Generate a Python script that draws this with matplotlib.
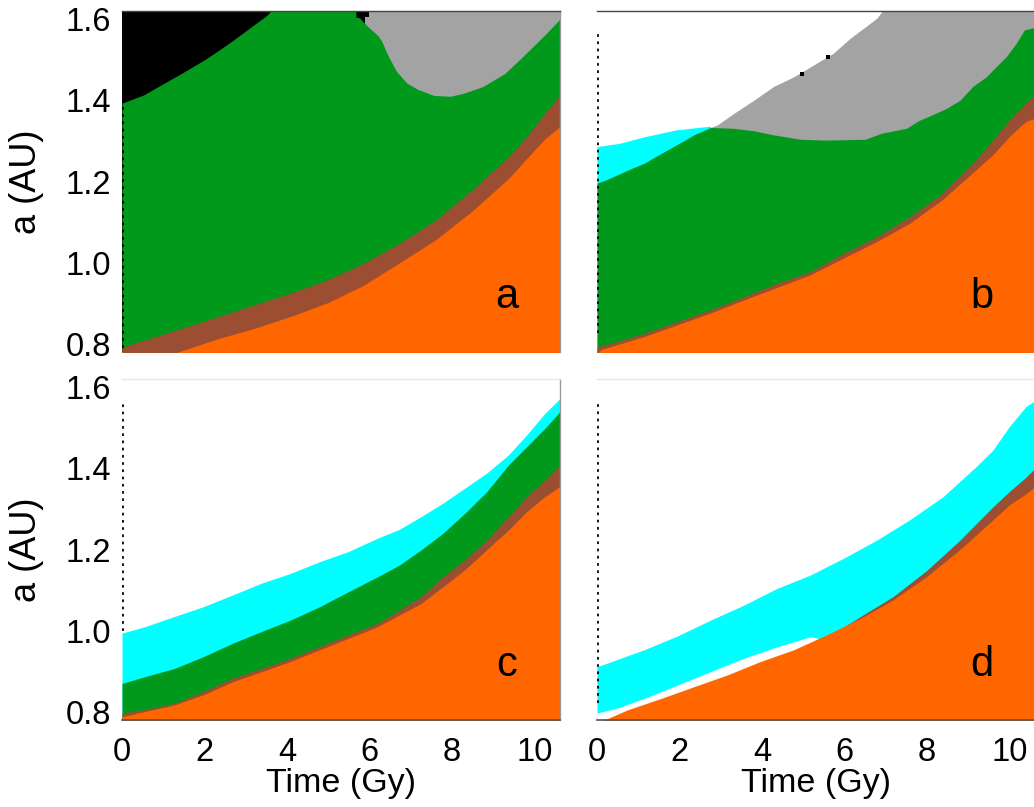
import matplotlib
matplotlib.use("Agg")
import matplotlib.pyplot as plt

plt.rcParams['font.family'] = ['Liberation Sans', 'DejaVu Sans']

# ---------------------------------------------------------------- colours
ORANGE = '#FF6600'
BROWN = '#9C4E32'
GREEN = '#00991C'
CYAN = '#00FFFF'
GRAY = '#A3A3A3'
BLACK = '#000000'

T_MAX = 10.62
A_MIN, A_MAX = 0.78, 1.62
FLOOR = 0.70  # fills run down below the visible range

x_ticks = [0, 2, 4, 6, 8, 10]
x_tick_labels = ['0', '2', '4', '6', '8', '10']
y_ticks = [0.8, 1.0, 1.2, 1.4, 1.6]
y_tick_labels = ['0.8', '1.0', '1.2', '1.4', '1.6']

# ---------------------------------------------------------------- panel a
a_black_end = 5.88
a_patch_t = [5.88, 5.98]
a_patch_a = 1.605
a_green_t = [0.0, 0.52, 1.02, 1.52, 2.02, 2.53, 3.03, 3.52, 3.69, 5.67, 5.67,
             5.76, 5.88, 6.0, 6.2, 6.3, 6.45, 6.65, 6.9, 7.17, 7.56, 7.96, 8.27,
             8.75, 9.28, 9.72, 10.25, 10.62]
a_green_a = [1.393, 1.413, 1.442, 1.471, 1.501, 1.536, 1.573, 1.61, 1.63, 1.63,
             1.605, 1.603, 1.59, 1.578, 1.56, 1.545, 1.51, 1.472, 1.443, 1.427,
             1.412, 1.41, 1.417, 1.434, 1.466, 1.508, 1.561, 1.60]
a_brown_t = [0.0, 0.56, 1.44, 2.32, 3.2, 4.08, 4.96, 5.85, 6.73, 7.61, 8.49,
             9.37, 9.81, 10.25, 10.62]
a_brown_a = [0.792, 0.81, 0.838, 0.867, 0.896, 0.925, 0.957, 0.998, 1.048,
             1.105, 1.179, 1.261, 1.31, 1.368, 1.413]
a_orange_t = [0.0, 1.36, 2.3, 3.2, 4.1, 5.0, 5.85, 6.7, 7.6, 8.5, 9.4, 9.8,
              10.25, 10.62]
a_orange_a = [0.74, 0.78, 0.812, 0.838, 0.868, 0.902, 0.944, 0.998, 1.056,
              1.128, 1.21, 1.255, 1.305, 1.335]

# ---------------------------------------------------------------- panel b
b_gray_t = [2.75, 2.91, 3.32, 3.8, 4.28, 4.77, 5.25, 5.73, 6.14, 6.51, 6.78,
            7.0, 10.62]
b_gray_a = [1.333, 1.339, 1.368, 1.4, 1.434, 1.458, 1.487, 1.516, 1.553, 1.581,
            1.602, 1.63, 1.63]
b_cyan_t = [0.0, 0.54, 1.14, 1.59, 1.91, 2.43, 2.75]
b_cyan_a = [1.286, 1.294, 1.31, 1.32, 1.327, 1.333, 1.336]
b_green_t = [0.0, 0.22, 0.74, 1.14, 1.55, 1.99, 2.35, 2.75, 3.32, 3.8, 4.28,
             4.93, 5.57, 6.5, 6.9, 7.5, 7.8, 8.12, 8.47, 8.8, 9.11, 9.44, 9.68,
             9.92, 10.16, 10.36, 10.62]
b_green_a = [1.196, 1.204, 1.228, 1.245, 1.269, 1.294, 1.315, 1.333, 1.331,
             1.325, 1.315, 1.304, 1.302, 1.304, 1.319, 1.331, 1.35, 1.364, 1.38,
             1.4, 1.434, 1.458, 1.483, 1.507, 1.54, 1.573, 1.58]
b_brown_t = [0.0, 0.46, 1.14, 1.95, 2.75, 3.56, 4.36, 5.17, 5.97, 6.78, 7.58,
             8.37, 9.19, 9.6, 10.0, 10.4, 10.62]
b_brown_a = [0.793, 0.805, 0.826, 0.855, 0.884, 0.916, 0.949, 0.978, 1.023,
             1.064, 1.113, 1.171, 1.253, 1.302, 1.351, 1.393, 1.413]
b_orange_t = [0.0, 0.1, 0.46, 1.14, 1.95, 2.75, 3.56, 4.36, 5.17, 5.97, 6.78,
              7.58, 8.37, 9.19, 9.6, 10.0, 10.4, 10.62]
b_orange_a = [0.776, 0.786, 0.797, 0.818, 0.847, 0.876, 0.908, 0.939, 0.97,
              1.011, 1.052, 1.097, 1.155, 1.229, 1.266, 1.311, 1.348, 1.356]
b_speck_t = [4.97, 5.6]
b_speck_a = [1.465, 1.506]

# ---------------------------------------------------------------- panel c
c_t = [0.0, 0.56, 1.27, 1.97, 2.68, 3.38, 4.08, 4.79, 5.49, 6.2, 6.73, 7.25,
       7.78, 8.31, 8.84, 9.37, 9.81, 10.25, 10.62]
c_cyan_a = [0.994, 1.01, 1.035, 1.059, 1.088, 1.117, 1.141, 1.17, 1.195, 1.228,
            1.25, 1.281, 1.314, 1.351, 1.388, 1.433, 1.482, 1.535, 1.572]
c_green_a = [0.87, 0.887, 0.907, 0.936, 0.969, 0.998, 1.026, 1.059, 1.096,
             1.133, 1.162, 1.199, 1.24, 1.289, 1.342, 1.408, 1.453, 1.498, 1.54]
c_brown_a = [0.797, 0.806, 0.821, 0.85, 0.883, 0.907, 0.932, 0.961, 0.99, 1.018,
             1.051, 1.084, 1.133, 1.174, 1.223, 1.281, 1.33, 1.371, 1.408]
c_orange_a = [0.788, 0.801, 0.817, 0.842, 0.874, 0.899, 0.924, 0.953, 0.981,
              1.01, 1.039, 1.067, 1.108, 1.15, 1.199, 1.248, 1.293, 1.33, 1.355]

# ---------------------------------------------------------------- panel d
d_cyan_t = [0.0, 0.46, 1.14, 1.95, 2.75, 3.56, 4.36, 5.17, 5.97, 6.78, 7.58,
            8.39, 9.19, 9.6, 10.0, 10.4, 10.62]
d_cyan_a = [0.911, 0.928, 0.953, 0.987, 1.026, 1.063, 1.104, 1.137, 1.178,
            1.223, 1.273, 1.33, 1.404, 1.445, 1.503, 1.552, 1.567]
d_gap_t = [0.0, 0.54, 1.14, 1.95, 2.75, 3.56, 4.36, 5.17, 5.35]
d_gap_a = [0.797, 0.811, 0.833, 0.866, 0.899, 0.932, 0.96, 0.985, 0.982]
d_brown_t = [6.0, 6.5, 7.18, 7.99, 8.79, 9.6, 10.0, 10.4, 10.62]
d_brown_a = [1.01, 1.042, 1.084, 1.148, 1.222, 1.305, 1.343, 1.378, 1.40]
d_orange_t = [0.0, 0.22, 0.74, 1.55, 2.35, 3.16, 3.96, 4.77, 5.57, 6.38, 7.18,
              7.99, 8.79, 9.6, 10.0, 10.4, 10.62]
d_orange_a = [0.775, 0.782, 0.805, 0.833, 0.862, 0.891, 0.924, 0.953, 0.99,
              1.03, 1.076, 1.133, 1.199, 1.273, 1.31, 1.337, 1.355]

panel_letters = ['a', 'b', 'c', 'd']

# ---------------------------------------------------------------- layout
W, H = 1034, 807
fig = plt.figure(figsize=(W / 100, H / 100), dpi=100)
fig.patch.set_facecolor('white')


def box(left, top, right, bottom):
    return [left / W, 1 - bottom / H, (right - left) / W, (bottom - top) / H]


ax_a = fig.add_axes(box(122, 11, 560, 352))
ax_b = fig.add_axes(box(597, 11, 1035, 352))
ax_c = fig.add_axes(box(122, 379, 560, 720))
ax_d = fig.add_axes(box(597, 379, 1035, 720))


def layer(ax, t, a, color, z):
    ax.fill_between(t, a, FLOOR, color=color, lw=0, zorder=z)


# panel a
ax_a.axvspan(0, a_black_end, color=BLACK, lw=0, zorder=1)
ax_a.axvspan(a_black_end, T_MAX, color=GRAY, lw=0, zorder=1)
ax_a.fill_between(a_patch_t, a_patch_a, A_MAX + 0.05, color=BLACK, lw=0, zorder=2)
layer(ax_a, a_green_t, a_green_a, GREEN, 3)
layer(ax_a, a_brown_t, a_brown_a, BROWN, 4)
layer(ax_a, a_orange_t, a_orange_a, ORANGE, 5)

# panel b
layer(ax_b, b_gray_t, b_gray_a, GRAY, 1)
layer(ax_b, b_cyan_t, b_cyan_a, CYAN, 2)
layer(ax_b, b_green_t, b_green_a, GREEN, 3)
layer(ax_b, b_brown_t, b_brown_a, BROWN, 4)
layer(ax_b, b_orange_t, b_orange_a, ORANGE, 5)
ax_b.scatter(b_speck_t, b_speck_a, marker='s', s=6, color=BLACK, lw=0, zorder=6)

# panel c
layer(ax_c, c_t, c_cyan_a, CYAN, 1)
layer(ax_c, c_t, c_green_a, GREEN, 2)
layer(ax_c, c_t, c_brown_a, BROWN, 3)
layer(ax_c, c_t, c_orange_a, ORANGE, 4)

# panel d
layer(ax_d, d_cyan_t, d_cyan_a, CYAN, 1)
layer(ax_d, d_gap_t, d_gap_a, 'white', 2)
layer(ax_d, d_brown_t, d_brown_a, BROWN, 3)
layer(ax_d, d_orange_t, d_orange_a, ORANGE, 4)

# dotted trace along the left edge of each panel
edge_spans = [(0.012, 0.726), (0.055, 0.935), (0.262, 0.935), (0.05, 0.935)]
for ax, (lo, hi) in zip([ax_a, ax_b, ax_c, ax_d], edge_spans):
    ax.axvline(0.02, lo, hi, color='black', lw=1.3, ls=(0, (1.5, 2.5)), zorder=8)

axes = [ax_a, ax_b, ax_c, ax_d]
for i, ax in enumerate(axes):
    top_row = i < 2
    left_col = i % 2 == 0
    ax.set_xlim(0, T_MAX)
    ax.set_ylim(A_MIN, A_MAX)
    ax.set_facecolor('white')
    ax.set_xticks(x_ticks)
    ax.set_yticks(y_ticks)
    ax.tick_params(length=0, labelsize=23.5)
    ax.tick_params(axis='x', pad=12)
    ax.tick_params(axis='y', pad=8)
    if left_col:
        ax.set_yticklabels(y_tick_labels)
    else:
        ax.set_yticklabels([])
    if top_row:
        ax.set_xticklabels([])
    else:
        ax.set_xticklabels(x_tick_labels)
        ax.set_xlabel('Time (Gy)', fontsize=24.5, labelpad=0.5)
    ax.spines['left'].set_visible(False)
    ax.spines['right'].set_color('#999999')
    ax.spines['right'].set_linewidth(1.0)
    if top_row:
        ax.spines['top'].set_color('#444444')
        ax.spines['top'].set_linewidth(1.0)
        ax.spines['bottom'].set_visible(False)
    else:
        ax.spines['top'].set_color('#e6e6e6')
        ax.spines['top'].set_linewidth(1.0)
        ax.spines['bottom'].set_color('#555555')
        ax.spines['bottom'].set_linewidth(1.2)
    for s in ax.spines.values():
        s.set_zorder(10)
    ax.text(0.879, 0.13, panel_letters[i], transform=ax.transAxes,
            ha='center', va='baseline', fontsize=30, color='black', zorder=11)

fig.text(26 / W, 1 - 182 / H, 'a (AU)', rotation=90, ha='center', va='center',
         fontsize=26)
fig.text(26 / W, 1 - 550 / H, 'a (AU)', rotation=90, ha='center', va='center',
         fontsize=26)

fig.savefig('out.png', dpi=100)
